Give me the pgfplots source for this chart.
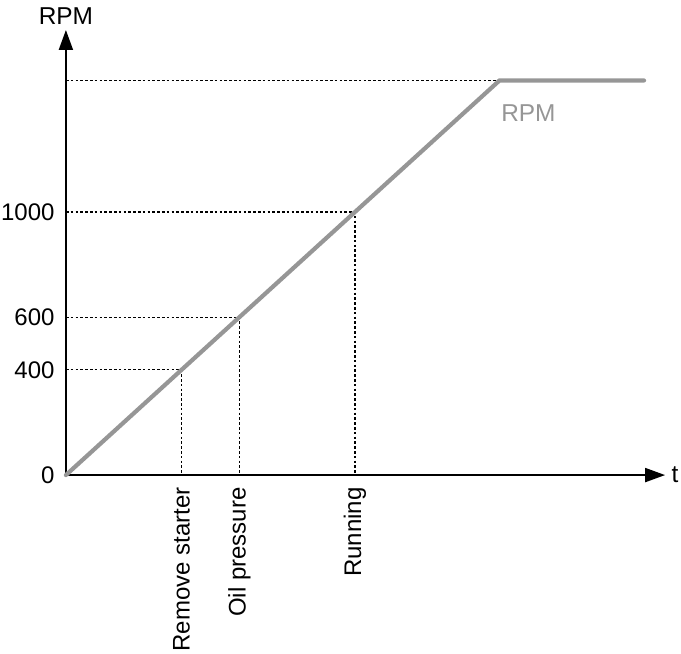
\documentclass[border=0pt]{standalone}
\usepackage{fontspec}
\setmainfont{Liberation Sans}
\usepackage{pgfplots}
\pgfplotsset{compat=1.18}
\usetikzlibrary{arrows.meta}
\definecolor{rpmgray}{RGB}{150,150,150}
\begin{document}
\fontsize{12.2pt}{14pt}\selectfont
\begin{tikzpicture}
\begin{axis}[
  x=0.1445pt, y=0.1315pt,
  xmin=0, xmax=2073, ymin=0, ymax=1692,
  axis lines=left,
  axis line style={line width=1pt, -{Triangle[length=10pt,width=7pt]}},
  clip=false,
  major tick length=0pt,
  xtick={400,600,1000},
  xticklabels={Remove starter, Oil pressure, Running},
  xticklabel style={rotate=90, anchor=east, inner sep=0pt, yshift=0pt, xshift=-6pt},
  ytick={0,400,600,1000},
  yticklabel style={anchor=east, inner sep=0pt, xshift=-5.5pt},
  /pgf/number format/assume math mode=true,
  /pgf/number format/1000 sep={},
  tick label style={font=\fontsize{12pt}{14pt}\selectfont},
  ylabel={RPM},
  ylabel style={at={(rel axis cs:0,1)}, anchor=base, rotate=-90, inner sep=0pt, yshift=2.5pt},
  xlabel={t},
  xlabel style={at={(rel axis cs:1,0)}, anchor=west, inner sep=0pt, xshift=3pt},
]
% dotted guide lines
\addplot[black, line width=0.55pt, dash pattern=on 1.3pt off 1.1pt] coordinates {(0,400) (400,400) (400,0)};
\addplot[black, line width=0.55pt, dash pattern=on 1.3pt off 1.1pt] coordinates {(0,600) (600,600) (600,0)};
\addplot[black, line width=0.55pt, dash pattern=on 1.3pt off 1.1pt] coordinates {(0,1000) (1000,1000) (1000,0)};
\addplot[black, line width=0.55pt, dash pattern=on 1.3pt off 1.1pt] coordinates {(0,1500) (1500,1500)};
% RPM curve
\addplot[rpmgray, line width=2.1pt, line cap=round, line join=miter] coordinates {(0,0) (1500,1500) (2000,1500)};
\node[rpmgray, anchor=north west, inner sep=0pt] at (axis cs:1505,1410) {RPM};
\coordinate (bl) at (axis cs:-228,-677);
\coordinate (tr) at (axis cs:2128,1806);
\end{axis}
\pgfresetboundingbox
\path[use as bounding box] (bl) rectangle (tr);
\end{tikzpicture}
\end{document}
